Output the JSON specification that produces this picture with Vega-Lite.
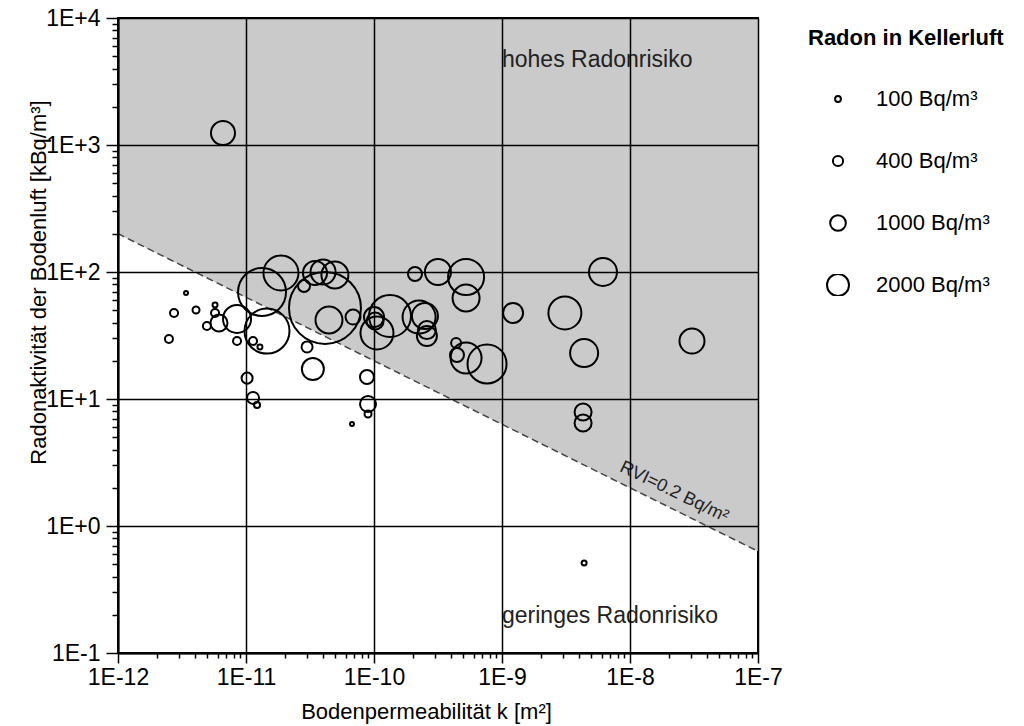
{
  "$schema": "https://vega.github.io/schema/vega-lite/v6.json",
  "width": 640,
  "height": 635,
  "autosize": {"type": "none"},
  "padding": {"left": 118, "top": 18, "right": 266, "bottom": 73},
  "background": "white",
  "config": {
    "view": {"stroke": "black", "strokeWidth": 2},
    "font": "Liberation Sans",
    "axis": {
      "labelFont": "Liberation Sans",
      "titleFont": "Liberation Sans",
      "labelFontSize": 23,
      "titleFontSize": 22,
      "titleFontWeight": "normal",
      "labelColor": "black",
      "titleColor": "black",
      "domainColor": "black",
      "domainWidth": 2,
      "tickColor": "black",
      "tickWidth": 1.5,
      "gridColor": "black",
      "gridWidth": 1.5
    }
  },
  "encoding": {
    "x": {
      "field": "k",
      "type": "quantitative",
      "scale": {"type": "log", "domain": [1e-12, 1e-7], "nice": false},
      "axis": {
        "zindex": 1,
        "title": "Bodenpermeabilität  k  [m²]",
        "values": [1e-12,2e-12,3e-12,4e-12,5e-12,6e-12,7e-12,8e-12,9e-12,1e-11,2e-11,3e-11,4e-11,5e-11,6e-11,7e-11,8e-11,9e-11,1e-10,2e-10,3e-10,4e-10,5e-10,6e-10,7e-10,8e-10,9e-10,1e-9,2e-9,3e-9,4e-9,5e-9,6e-9,7e-9,8e-9,9e-9,1e-8,2e-8,3e-8,4e-8,5e-8,6e-8,7e-8,8e-8,9e-8,1e-7],
        "labelExpr": "abs(log(datum.value)/LN10 - round(log(datum.value)/LN10)) < 1e-6 ? '1E' + round(log(datum.value)/LN10) : ''",
        "tickSize": {"condition": {"test": "abs(log(datum.value)/LN10 - round(log(datum.value)/LN10)) < 1e-6", "value": 10}, "value": 5},
        "gridOpacity": {"condition": {"test": "abs(log(datum.value)/LN10 - round(log(datum.value)/LN10)) < 1e-6", "value": 1}, "value": 0},
        "labelPadding": 3,
        "labelFlush": false,
        "labelOverlap": false,
        "titlePadding": 12,
        "titleX": 308
      }
    },
    "y": {
      "field": "c",
      "type": "quantitative",
      "scale": {"type": "log", "domain": [0.1, 10000], "nice": false},
      "axis": {
        "zindex": 1,
        "title": "Radonaktivität der Bodenluft [kBq/m³]",
        "values": [0.1,0.2,0.3,0.4,0.5,0.6,0.7,0.8,0.9,1,2,3,4,5,6,7,8,9,10,20,30,40,50,60,70,80,90,100,200,300,400,500,600,700,800,900,1000,2000,3000,4000,5000,6000,7000,8000,9000,10000],
        "labelExpr": "abs(log(datum.value)/LN10 - round(log(datum.value)/LN10)) < 1e-6 ? '1E' + (round(log(datum.value)/LN10) >= 0 ? '+' : '') + round(log(datum.value)/LN10) : ''",
        "tickSize": {"condition": {"test": "abs(log(datum.value)/LN10 - round(log(datum.value)/LN10)) < 1e-6", "value": 12}, "value": 6},
        "gridOpacity": {"condition": {"test": "abs(log(datum.value)/LN10 - round(log(datum.value)/LN10)) < 1e-6", "value": 1}, "value": 0},
        "labelPadding": 6,
        "labelFlush": false,
        "labelOverlap": false,
        "titleX": -68,
        "titleY": 264
      }
    }
  },
  "layer": [
    {
      "data": {"values": [{"k": 1e-12, "c": 200, "top": 10000}, {"k": 1e-7, "c": 0.632, "top": 10000}]},
      "mark": {"type": "area", "color": "#cacaca", "clip": true},
      "encoding": {"y2": {"field": "top"}}
    },
    {
      "data": {"values": [{"k": 1e-12, "c": 200}, {"k": 1e-7, "c": 0.632}]},
      "mark": {"type": "line", "color": "#444444", "strokeWidth": 1.5, "strokeDash": [7, 4], "clip": true},
      "encoding": {}
    },
    {
      "data": {"values": [
        {"k": 6.61e-12, "c": 1242, "radon": 2390},
        {"k": 3.40e-12, "c": 68.4, "radon": 25},
        {"k": 2.74e-12, "c": 47.6, "radon": 230},
        {"k": 4.07e-12, "c": 50.2, "radon": 165},
        {"k": 2.50e-12, "c": 29.7, "radon": 230},
        {"k": 5.73e-12, "c": 55.0, "radon": 63},
        {"k": 5.73e-12, "c": 47.6, "radon": 230},
        {"k": 4.95e-12, "c": 37.6, "radon": 230},
        {"k": 6.15e-12, "c": 39.7, "radon": 1180},
        {"k": 8.51e-12, "c": 42.7, "radon": 3270},
        {"k": 8.51e-12, "c": 28.6, "radon": 230},
        {"k": 1.135e-11, "c": 28.6, "radon": 230},
        {"k": 1.285e-11, "c": 25.7, "radon": 63},
        {"k": 1.459e-11, "c": 34.3, "radon": 8500},
        {"k": 1.334e-11, "c": 69.6, "radon": 9680},
        {"k": 1.02e-11, "c": 14.6, "radon": 470},
        {"k": 1.135e-11, "c": 10.2, "radon": 565},
        {"k": 1.22e-11, "c": 8.97, "radon": 110},
        {"k": 1.875e-11, "c": 98.2, "radon": 5130},
        {"k": 4.14e-11, "c": 52.1, "radon": 21800},
        {"k": 3.46e-11, "c": 98.2, "radon": 2390},
        {"k": 4.0e-11, "c": 100, "radon": 2600},
        {"k": 4.95e-11, "c": 94.7, "radon": 3030},
        {"k": 2.84e-11, "c": 77.6, "radon": 565},
        {"k": 4.45e-11, "c": 41.9, "radon": 3030},
        {"k": 6.86e-11, "c": 44.2, "radon": 910},
        {"k": 3.0e-11, "c": 25.7, "radon": 470},
        {"k": 3.33e-11, "c": 17.2, "radon": 2000},
        {"k": 6.73e-11, "c": 6.36, "radon": 25},
        {"k": 8.81e-11, "c": 14.9, "radon": 785},
        {"k": 8.98e-11, "c": 9.14, "radon": 1040},
        {"k": 8.98e-11, "c": 7.62, "radon": 165},
        {"k": 1.0e-10, "c": 44.2, "radon": 1650},
        {"k": 1.02e-10, "c": 41.1, "radon": 1180},
        {"k": 1.055e-10, "c": 33.1, "radon": 4550},
        {"k": 1.334e-10, "c": 45.0, "radon": 7400},
        {"k": 2.09e-10, "c": 96.4, "radon": 785},
        {"k": 3.16e-10, "c": 100, "radon": 2810},
        {"k": 5.24e-10, "c": 91.4, "radon": 5430},
        {"k": 5.24e-10, "c": 62.4, "radon": 3030},
        {"k": 2.25e-10, "c": 44.2, "radon": 4550},
        {"k": 2.50e-10, "c": 45.0, "radon": 2810},
        {"k": 2.59e-10, "c": 31.3, "radon": 1650},
        {"k": 2.59e-10, "c": 34.9, "radon": 1325},
        {"k": 4.38e-10, "c": 27.6, "radon": 380},
        {"k": 4.45e-10, "c": 22.2, "radon": 785},
        {"k": 5.24e-10, "c": 21.0, "radon": 4010},
        {"k": 7.64e-10, "c": 18.9, "radon": 6380},
        {"k": 1.22e-9, "c": 47.6, "radon": 1650},
        {"k": 3.10e-9, "c": 47.6, "radon": 4550},
        {"k": 6.15e-9, "c": 100, "radon": 3270},
        {"k": 4.38e-9, "c": 23.0, "radon": 3270},
        {"k": 3.05e-8, "c": 28.6, "radon": 2600},
        {"k": 4.30e-9, "c": 7.90, "radon": 1180},
        {"k": 4.30e-9, "c": 6.47, "radon": 1180},
        {"k": 4.38e-9, "c": 0.512, "radon": 63}
      ]},
      "mark": {"type": "point", "shape": "circle", "filled": false, "stroke": "black", "strokeWidth": 2, "opacity": 1},
      "encoding": {
        "size": {
          "field": "radon",
          "type": "quantitative",
          "scale": {"type": "linear", "domain": [0, 2000], "range": [10, 484], "zero": false},
          "legend": {
            "title": "Radon in Kellerluft",
            "values": [100, 400, 1000, 2000],
            "labelExpr": "datum.value + ' Bq/m³'",
            "orient": "none",
            "legendX": 690,
            "legendY": 10,
            "titleFont": "Liberation Sans",
            "titleFontSize": 22,
            "titleFontWeight": "bold",
            "titleColor": "black",
            "titleLimit": 400,
            "titlePadding": 38,
            "labelFont": "Liberation Sans",
            "labelFontSize": 22,
            "labelLimit": 300,
            "labelColor": "black",
            "labelOffset": 26,
            "symbolOffset": 18,
            "symbolStrokeColor": "black",
            "symbolStrokeWidth": 2,
            "symbolFillColor": "transparent",
            "clipHeight": 22,
            "rowPadding": 40
          }
        }
      }
    },
    {
      "data": {"values": [
        {"k": 1e-9, "c": 4670, "label": "hohes Radonrisiko"},
        {"k": 1e-9, "c": 0.195, "label": "geringes Radonrisiko"}
      ]},
      "mark": {"type": "text", "align": "left", "baseline": "middle", "fontSize": 23, "font": "Liberation Sans", "color": "#222222"},
      "encoding": {"text": {"field": "label"}}
    },
    {
      "data": {"values": [{"k": 2.21e-8, "c": 1.85, "label": "RVI=0.2 Bq/m²"}]},
      "mark": {"type": "text", "align": "center", "baseline": "middle", "fontSize": 18, "font": "Liberation Sans", "angle": 26, "color": "#222222"},
      "encoding": {"text": {"field": "label"}}
    }
  ]
}
